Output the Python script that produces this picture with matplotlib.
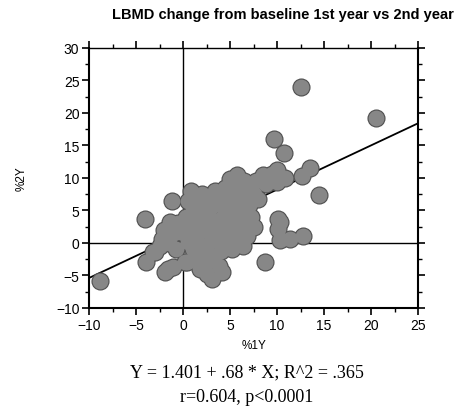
import numpy as np
import matplotlib.pyplot as plt
from matplotlib.ticker import MultipleLocator

# --- Data (x = %1Y, y = %2Y) ---
x_pts = [
    # outliers, right side
    12.5, 20.5, 9.7, 10.7, 13.5, 12.6, 14.5, 10.1, 10.1, 10.3, 11.4, 12.7,
    9.3, 10.0, 10.8, 9.5, 10.0, 10.3,
    # upper part of the cloud
    0.8, 2.0, 3.4, 5.0, 5.7, 6.5, 5.5, 7.0, 7.8, 8.5, 8.8,
    0.5, 1.5, 2.5, 3.5, 4.5, 5.5, 6.5, 7.5, 8.0,
    1.0, 2.0, 3.0, 4.0, 5.0, 6.0, 7.0, 4.5, 6.0,
    # middle
    0.3, 1.2, 2.2, 3.2, 4.2, 5.2, 6.2, 7.2,
    0.8, 1.8, 2.8, 3.8, 4.8, 5.8, 6.8, 7.5,
    0.0, 1.0, 2.0, 3.0, 4.0, 5.0, 6.0, 6.8,
    0.5, 1.5, 2.5, 3.5, 4.6, 5.5, 6.4,
    1.0, 2.0, 3.0, 3.2, 4.0, 5.2, 2.5, 1.5,
    # left and lower part
    -1.2, -4.1, -4.0, -1.6, -1.9, 0.4, 1.8, 3.1, 4.1, 3.2, 8.7,
    -3.0, -2.3, -1.4, -2.0, -1.0, -0.5, -1.5, -0.8, -2.5,
    -3.2, -1.1, 0.2, -8.8, 2.5, 3.8,
]
y_pts = [
    24.0, 19.2, 16.0, 13.8, 11.5, 10.3, 7.4, 3.7, 2.2, 0.4, 0.6, 1.1,
    9.6, 11.2, 10.0, 10.6, 9.4, 3.2,
    8.0, 7.5, 8.0, 9.8, 10.4, 9.5, 8.5, 8.8, 9.5, 10.4, 9.0,
    6.5, 6.8, 6.3, 6.8, 7.0, 6.5, 7.0, 7.5, 6.8,
    5.5, 5.0, 5.5, 5.8, 5.2, 5.5, 5.8, 8.5, 8.0,
    4.0, 3.8, 4.2, 3.5, 4.0, 3.8, 4.2, 4.0,
    2.8, 2.5, 2.8, 2.5, 3.0, 2.6, 3.0, 2.5,
    1.5, 1.2, 1.8, 1.0, 1.5, 1.2, 1.8, 1.0,
    0.2, 0.5, -0.3, 0.3, -0.2, 0.5, -0.5,
    -1.0, -1.5, -1.8, -2.2, -1.2, -1.0, -3.0, -2.5,
    6.4, 3.7, -3.0, -4.0, -4.5, -3.0, -4.0, -5.5, -4.5, -2.2, -3.0,
    -1.4, 0.6, 3.2, 2.0, 1.5, 3.0, 0.0, -1.0, -0.5,
    -1.4, -3.7, -3.0, -5.8, -4.8, -3.5,
]

intercept = 1.401
slope = 0.68
fit_x = [-10, 25]

title = "LBMD change from baseline 1st year vs 2nd year"
eq_line1 = "Y = 1.401 + .68 * X; R^2 = .365"
eq_line2 = "r=0.604, p<0.0001"

plt.rcParams['font.family'] = ['Liberation Sans', 'DejaVu Sans']

fig = plt.figure(figsize=(4.57, 4.14), dpi=100)
ax = fig.add_axes([0.195, 0.254, 0.72, 0.628])

ax.axvline(0, color='black', linewidth=1.0, zorder=1)
ax.axhline(0, color='black', linewidth=1.0, zorder=1)

fit_y = [intercept + slope * v for v in fit_x]
ax.plot(fit_x, fit_y, color='black', linewidth=1.3, zorder=1.5)

# dark outline layer underneath, grey fill on top, so the cloud merges
ax.scatter(x_pts, y_pts, s=170, color='#505050', linewidth=0, zorder=2)
ax.scatter(x_pts, y_pts, s=130, color='#878787', linewidth=0, zorder=2.5)

ax.set_xlim(-10, 25)
ax.set_ylim(-10, 30)
ax.xaxis.set_major_locator(MultipleLocator(5))
ax.xaxis.set_minor_locator(MultipleLocator(2.5))
ax.yaxis.set_major_locator(MultipleLocator(5))
ax.yaxis.set_minor_locator(MultipleLocator(2.5))
ax.tick_params(which='both', direction='out', top=True, right=True,
               labeltop=False, labelright=False)
ax.tick_params(which='major', length=5, width=1.2, labelsize=10, pad=2)
ax.tick_params(which='minor', length=3, width=1.0)
for side in ['left', 'bottom', 'right']:
    ax.spines[side].set_linewidth(1.5)
ax.spines['top'].set_linewidth(1.0)

ax.set_xlabel('%1Y', fontsize=8.5, labelpad=5)
ax.set_ylabel('%2Y', fontsize=8.5, labelpad=20)

fig.text(0.62, 0.963, title, ha='center', va='center', fontsize=10.5,
         fontweight='bold')
fig.text(0.54, 0.10, eq_line1, ha='center', va='center', fontsize=13,
         family=['Liberation Serif', 'DejaVu Serif'])
fig.text(0.54, 0.04, eq_line2, ha='center', va='center', fontsize=13,
         family=['Liberation Serif', 'DejaVu Serif'])

plt.savefig('out.png', dpi=100)
